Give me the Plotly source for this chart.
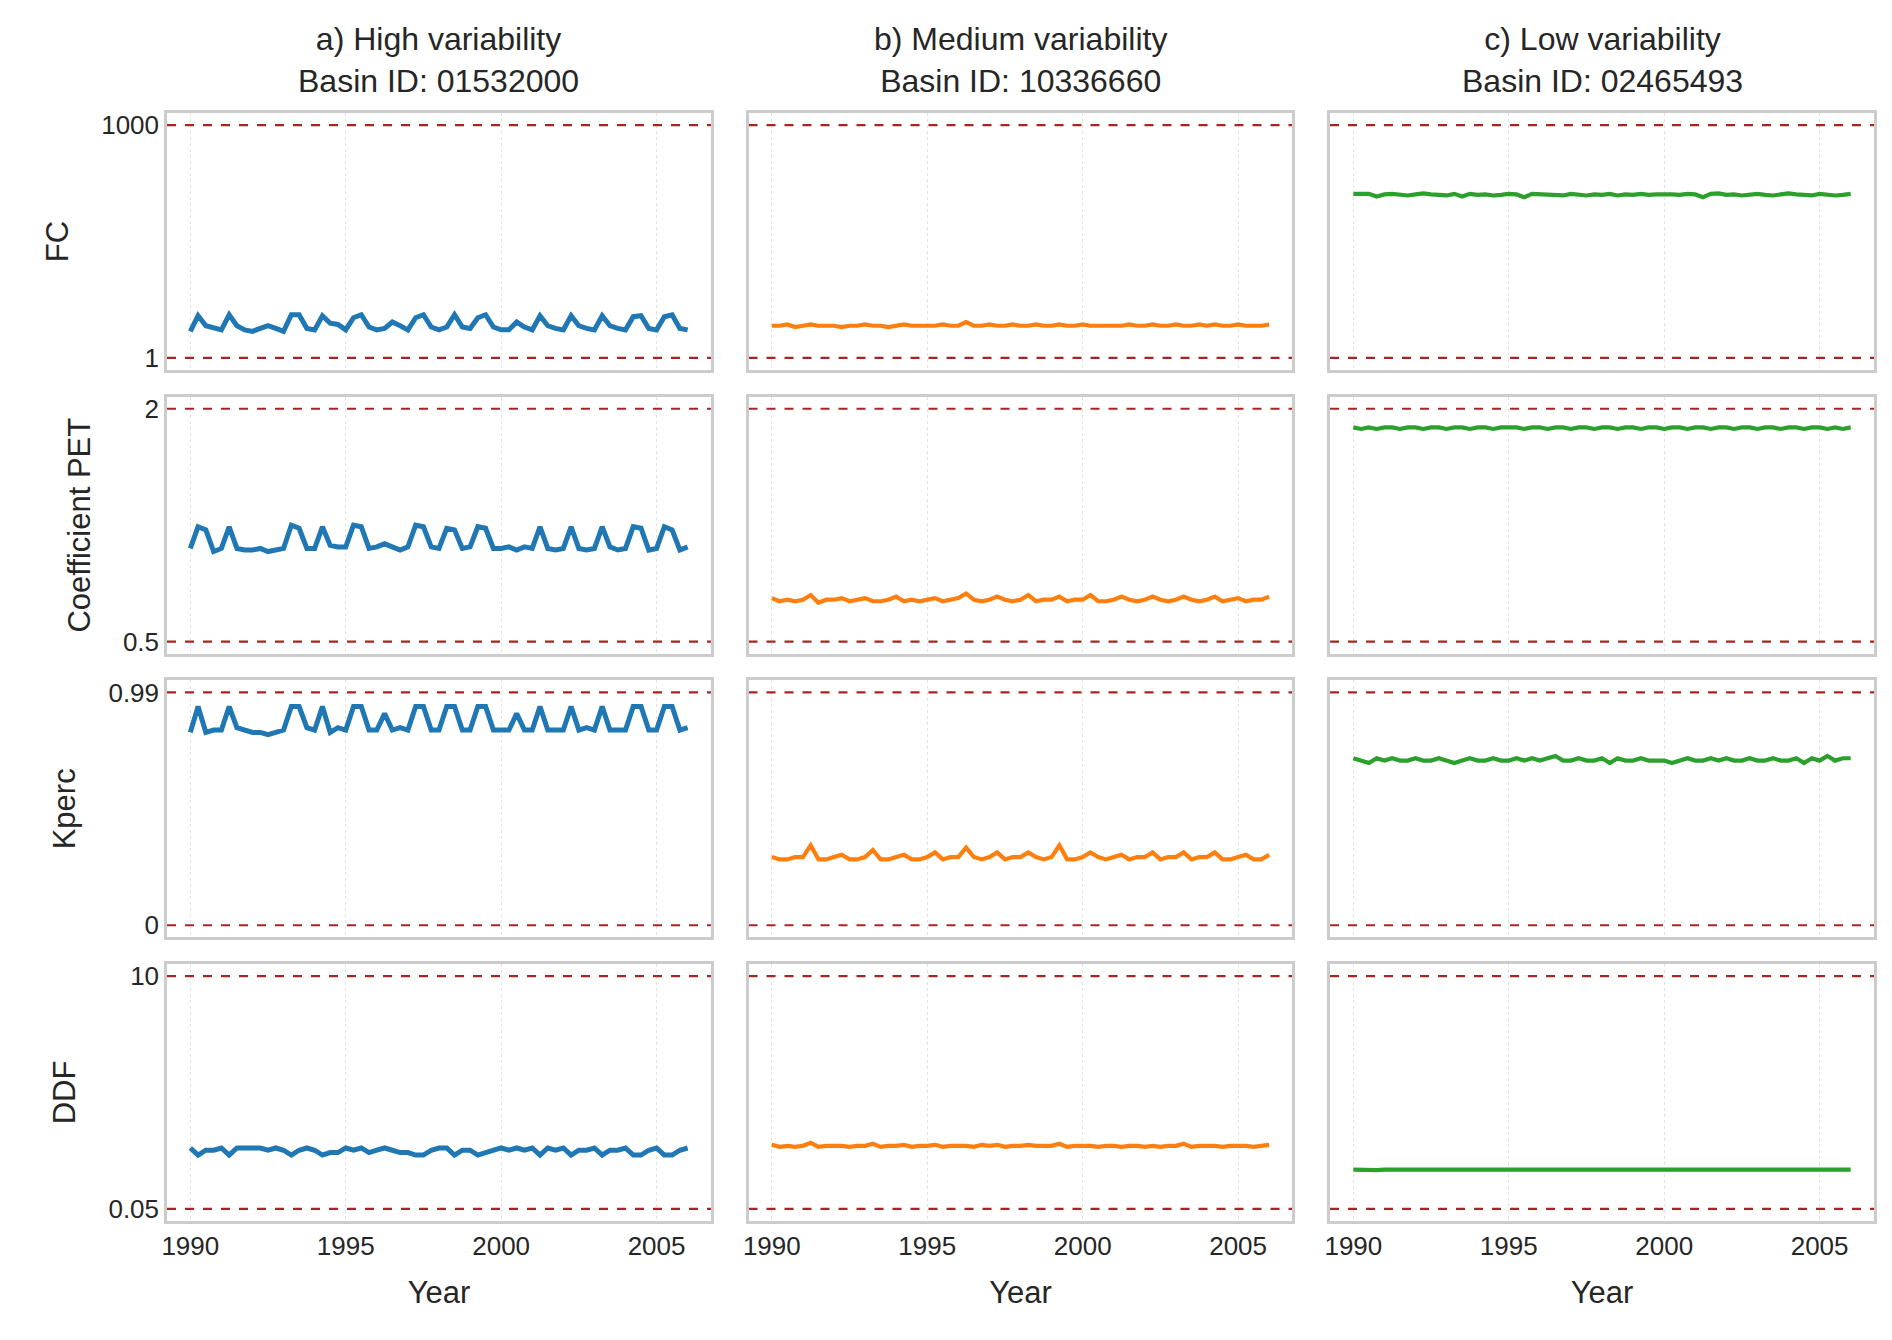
import numpy as np
import plotly.graph_objects as go
from plotly.subplots import make_subplots

# quarterly time axis, 1990.00 .. 2006.00
years = [1990 + 0.25 * i for i in range(65)]

# ---- a) high variability (basin 01532000) ----
fc_high = [2.2, 3.5, 2.6, 2.4, 2.3, 3.6, 2.6, 2.3, 2.2, 2.4, 2.6, 2.4,
           2.2, 3.6, 3.6, 2.4, 2.3, 3.5, 2.8, 2.7, 2.3, 3.3, 3.6, 2.5,
           2.3, 2.4, 2.9, 2.6, 2.3, 3.3, 3.6, 2.5, 2.3, 2.5, 3.6, 2.5,
           2.4, 3.3, 3.6, 2.5, 2.3, 2.3, 2.9, 2.5, 2.3, 3.5, 2.6, 2.4,
           2.3, 3.5, 2.6, 2.4, 2.3, 3.5, 2.6, 2.4, 2.3, 3.4, 3.5, 2.4,
           2.3, 3.4, 3.6, 2.4, 2.3]
pet_high = [1.10, 1.24, 1.22, 1.08, 1.10, 1.24, 1.10, 1.09, 1.09, 1.10, 1.08, 1.09,
            1.10, 1.25, 1.23, 1.10, 1.10, 1.24, 1.12, 1.11, 1.11, 1.25, 1.24, 1.10,
            1.11, 1.13, 1.11, 1.09, 1.11, 1.25, 1.24, 1.11, 1.10, 1.23, 1.22, 1.10,
            1.11, 1.24, 1.23, 1.10, 1.10, 1.11, 1.09, 1.11, 1.10, 1.24, 1.10, 1.09,
            1.10, 1.24, 1.10, 1.09, 1.10, 1.24, 1.11, 1.09, 1.10, 1.24, 1.23, 1.09,
            1.10, 1.24, 1.22, 1.09, 1.11]
kperc_high = [0.82, 0.93, 0.82, 0.83, 0.83, 0.93, 0.84, 0.83, 0.82, 0.82, 0.81, 0.82,
              0.83, 0.93, 0.93, 0.84, 0.83, 0.93, 0.82, 0.84, 0.83, 0.93, 0.93, 0.83,
              0.83, 0.90, 0.83, 0.84, 0.83, 0.93, 0.93, 0.83, 0.83, 0.93, 0.93, 0.83,
              0.83, 0.93, 0.93, 0.83, 0.83, 0.83, 0.90, 0.83, 0.83, 0.93, 0.83, 0.83,
              0.83, 0.93, 0.83, 0.84, 0.83, 0.93, 0.83, 0.83, 0.83, 0.93, 0.93, 0.83,
              0.83, 0.93, 0.93, 0.83, 0.84]
ddf_high = [0.20, 0.17, 0.19, 0.19, 0.20, 0.17, 0.20, 0.20, 0.20, 0.20, 0.19, 0.20,
            0.19, 0.17, 0.19, 0.20, 0.19, 0.17, 0.18, 0.18, 0.20, 0.19, 0.20, 0.18,
            0.19, 0.20, 0.19, 0.18, 0.18, 0.17, 0.17, 0.19, 0.20, 0.20, 0.17, 0.19,
            0.19, 0.17, 0.18, 0.19, 0.20, 0.19, 0.20, 0.19, 0.20, 0.17, 0.20, 0.19,
            0.20, 0.17, 0.19, 0.19, 0.20, 0.17, 0.19, 0.19, 0.20, 0.17, 0.17, 0.19,
            0.20, 0.17, 0.17, 0.19, 0.20]

# ---- b) medium variability (basin 10336660) ----
fc_med = [2.6, 2.6, 2.7, 2.5, 2.6, 2.7, 2.6, 2.6, 2.6, 2.5, 2.6, 2.6,
          2.7, 2.6, 2.6, 2.5, 2.6, 2.7, 2.6, 2.6, 2.6, 2.6, 2.7, 2.6,
          2.6, 2.9, 2.6, 2.6, 2.7, 2.6, 2.6, 2.7, 2.6, 2.6, 2.7, 2.6,
          2.6, 2.7, 2.6, 2.6, 2.7, 2.6, 2.6, 2.6, 2.6, 2.6, 2.7, 2.6,
          2.6, 2.7, 2.6, 2.6, 2.7, 2.6, 2.6, 2.7, 2.6, 2.7, 2.6, 2.6,
          2.7, 2.6, 2.6, 2.6, 2.7]
pet_med = [0.78, 0.76, 0.77, 0.76, 0.77, 0.80, 0.75, 0.77, 0.77, 0.78, 0.76, 0.77,
           0.78, 0.76, 0.76, 0.77, 0.79, 0.76, 0.77, 0.76, 0.77, 0.78, 0.76, 0.77,
           0.78, 0.81, 0.77, 0.76, 0.77, 0.79, 0.77, 0.76, 0.77, 0.80, 0.76, 0.77,
           0.77, 0.79, 0.76, 0.77, 0.77, 0.80, 0.76, 0.76, 0.77, 0.79, 0.77, 0.76,
           0.77, 0.79, 0.77, 0.76, 0.77, 0.79, 0.77, 0.76, 0.77, 0.79, 0.76, 0.77,
           0.78, 0.76, 0.77, 0.77, 0.79]
kperc_med = [0.29, 0.28, 0.28, 0.29, 0.29, 0.34, 0.28, 0.28, 0.29, 0.30, 0.28, 0.28,
             0.29, 0.32, 0.28, 0.28, 0.29, 0.30, 0.28, 0.28, 0.29, 0.31, 0.28, 0.29,
             0.29, 0.33, 0.29, 0.28, 0.29, 0.31, 0.28, 0.29, 0.29, 0.31, 0.29, 0.28,
             0.29, 0.34, 0.28, 0.28, 0.29, 0.31, 0.29, 0.28, 0.29, 0.30, 0.28, 0.29,
             0.29, 0.31, 0.28, 0.29, 0.29, 0.31, 0.28, 0.29, 0.29, 0.31, 0.28, 0.28,
             0.29, 0.30, 0.28, 0.28, 0.30]
ddf_med = [0.215, 0.205, 0.210, 0.205, 0.210, 0.225, 0.205, 0.210, 0.210, 0.210, 0.205, 0.210,
           0.210, 0.220, 0.205, 0.210, 0.210, 0.215, 0.205, 0.210, 0.210, 0.215, 0.205, 0.210,
           0.210, 0.210, 0.205, 0.215, 0.210, 0.215, 0.205, 0.210, 0.210, 0.215, 0.210, 0.210,
           0.210, 0.220, 0.205, 0.210, 0.210, 0.210, 0.205, 0.210, 0.210, 0.205, 0.210, 0.210,
           0.205, 0.210, 0.205, 0.210, 0.210, 0.220, 0.205, 0.210, 0.210, 0.210, 0.205, 0.210,
           0.210, 0.210, 0.205, 0.210, 0.215]

# ---- c) low variability (basin 02465493) ----
fc_low = [130, 128, 130, 120, 128, 130, 126, 124, 128, 132, 128, 126,
          124, 130, 120, 130, 126, 128, 124, 126, 130, 128, 118, 130,
          128, 126, 128, 124, 130, 128, 124, 128, 126, 130, 124, 128,
          126, 130, 126, 128, 130, 128, 126, 130, 128, 118, 130, 132,
          126, 128, 124, 128, 130, 126, 124, 128, 132, 128, 126, 124,
          130, 128, 124, 126, 130]
pet_low = [1.88, 1.87, 1.88, 1.87, 1.88, 1.88, 1.87, 1.88, 1.88, 1.87, 1.88, 1.88,
           1.87, 1.88, 1.88, 1.87, 1.88, 1.88, 1.87, 1.88, 1.88, 1.88, 1.87, 1.88,
           1.88, 1.87, 1.88, 1.88, 1.87, 1.88, 1.88, 1.87, 1.88, 1.88, 1.87, 1.88,
           1.88, 1.87, 1.88, 1.88, 1.87, 1.88, 1.88, 1.87, 1.88, 1.88, 1.87, 1.88,
           1.88, 1.87, 1.88, 1.88, 1.87, 1.88, 1.88, 1.87, 1.88, 1.88, 1.87, 1.88,
           1.88, 1.87, 1.88, 1.87, 1.88]
kperc_low = [0.71, 0.70, 0.69, 0.71, 0.70, 0.71, 0.70, 0.70, 0.71, 0.70, 0.70, 0.71,
             0.70, 0.69, 0.70, 0.71, 0.70, 0.70, 0.71, 0.70, 0.70, 0.71, 0.70, 0.71,
             0.70, 0.71, 0.72, 0.70, 0.70, 0.71, 0.70, 0.70, 0.71, 0.69, 0.71, 0.70,
             0.70, 0.71, 0.70, 0.70, 0.70, 0.69, 0.70, 0.71, 0.70, 0.70, 0.71, 0.70,
             0.71, 0.70, 0.70, 0.71, 0.70, 0.70, 0.71, 0.70, 0.70, 0.71, 0.69, 0.71,
             0.70, 0.72, 0.70, 0.71, 0.71]
ddf_low = [0.122, 0.121, 0.122, 0.121, 0.122, 0.122, 0.121, 0.122, 0.122, 0.121, 0.122, 0.122,
           0.121, 0.122, 0.122, 0.121, 0.122, 0.122, 0.121, 0.122, 0.122, 0.121, 0.122, 0.122,
           0.121, 0.122, 0.122, 0.121, 0.122, 0.122, 0.121, 0.122, 0.122, 0.121, 0.122, 0.122,
           0.121, 0.122, 0.122, 0.121, 0.122, 0.122, 0.121, 0.122, 0.122, 0.121, 0.122, 0.122,
           0.121, 0.122, 0.122, 0.121, 0.122, 0.122, 0.121, 0.122, 0.122, 0.121, 0.122, 0.122,
           0.121, 0.122, 0.122, 0.121, 0.122]

col_titles = ["a) High variability<br>Basin ID: 01532000",
              "b) Medium variability<br>Basin ID: 10336660",
              "c) Low variability<br>Basin ID: 02465493"]
row_names = ["FC", "Coefficient PET", "Kperc", "DDF"]
bounds = [(1, 1000), (0.5, 2), (0, 0.99), (0.05, 10)]
bound_labels = [("1", "1000"), ("0.5", "2"), ("0", "0.99"), ("0.05", "10")]
log_rows = [True, False, False, True]
colors = ["#1f77b4", "#ff7f0e", "#2ca02c"]
widths = [5, 4.2, 4.2]

series = [
    [fc_high, fc_med, fc_low],
    [pet_high, pet_med, pet_low],
    [kperc_high, kperc_med, kperc_low],
    [ddf_high, ddf_med, ddf_low],
]

FONT = "Liberation Sans, Arial, sans-serif"
TXT = "#262626"

fig = make_subplots(rows=4, cols=3, horizontal_spacing=0.022,
                    vertical_spacing=0.024)

for r in range(4):
    lo, hi = bounds[r]
    if log_rows[r]:
        span = np.log10(hi) - np.log10(lo)
        yr = [np.log10(lo) - 0.052 * span, np.log10(hi) + 0.052 * span]
    else:
        span = hi - lo
        yr = [lo - 0.052 * span, hi + 0.052 * span]
    for c in range(3):
        fig.add_trace(go.Scatter(
            x=years, y=series[r][c], mode="lines",
            line=dict(color=colors[c], width=widths[c]),
            showlegend=False,
        ), row=r + 1, col=c + 1)
        for b in bounds[r]:
            fig.add_trace(go.Scatter(
                x=[1989.25, 2006.75], y=[b, b], mode="lines",
                line=dict(color="#a82424", width=2.2, dash="dash"),
                showlegend=False, hoverinfo="skip",
            ), row=r + 1, col=c + 1)
        fig.update_yaxes(
            type="log" if log_rows[r] else "linear", range=yr,
            tickvals=list(bounds[r]), ticktext=list(bound_labels[r]),
            showticklabels=(c == 0), showgrid=False, zeroline=False,
            showline=True, mirror=True, linecolor="#cccccc", linewidth=2.5,
            tickfont=dict(size=26, color=TXT),
            title=dict(text=row_names[r] if c == 0 else "",
                       font=dict(size=31, color=TXT), standoff=24),
            row=r + 1, col=c + 1)
        fig.update_xaxes(
            range=[1989.25, 2006.75], tickvals=[1990, 1995, 2000, 2005],
            showticklabels=(r == 3), showgrid=True, gridcolor="#e3e3e3",
            griddash="dot", gridwidth=1.2, zeroline=False,
            showline=True, mirror=True, linecolor="#cccccc", linewidth=2.5,
            tickfont=dict(size=26, color=TXT),
            title=dict(text="Year" if r == 3 else "",
                       font=dict(size=31, color=TXT), standoff=22),
            row=r + 1, col=c + 1)

for c in range(3):
    dom = fig.layout[f"xaxis{c + 1 if c else ''}"].domain
    fig.add_annotation(
        text=col_titles[c], x=(dom[0] + dom[1]) / 2, y=1.0,
        xref="paper", yref="paper", xanchor="center", yanchor="bottom",
        showarrow=False, yshift=12,
        font=dict(size=32, color=TXT, family=FONT))

fig.update_layout(
    width=1892, height=1340,
    margin=dict(l=159, r=26, t=105, b=127),
    paper_bgcolor="white", plot_bgcolor="white",
    font=dict(family=FONT, color=TXT),
)

fig.write_html("out.html")
